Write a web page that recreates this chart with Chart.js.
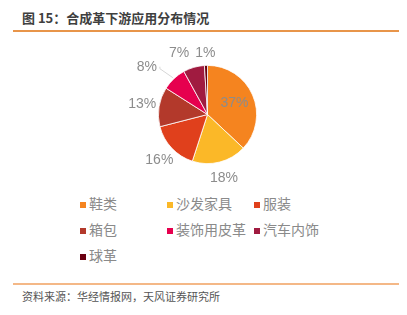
<!DOCTYPE html>
<html lang="zh">
<head>
<meta charset="UTF-8">
<title>合成革下游应用分布情况</title>
<style>
    body { margin: 0; background: #fff; font-family: "Noto Sans CJK SC", "Noto Sans", sans-serif; }
    #wrap { position: relative; width: 407px; height: 315px; overflow: hidden; }
    #title { position: absolute; left: 22px; top: 8px; font-size: 13px; font-weight: bold; color: #3f3f3f; }
    .rule { position: absolute; left: 13px; width: 386px; height: 2px; }
    #pie { position: absolute; left: 0; top: 40px; }
    #legend { position: absolute; left: 80px; top: 193px; width: 300px; }
    .item { position: absolute; font-size: 14px; color: #8a8a8a; white-space: nowrap; line-height: 20px; }
    .item i { display: inline-block; width: 6px; height: 6px; margin-right: 3px; vertical-align: 1px; }
    #source { position: absolute; left: 22px; top: 288px; font-size: 11px; color: #555; }
</style>
</head>
<body>
<div id="wrap">
    <div id="title">图 15：合成革下游应用分布情况</div>
    <div class="rule" style="top:30px;background:#e8954a;"></div>
    <canvas id="pie" width="407" height="150"></canvas>
    <div id="legend"></div>
    <div class="rule" style="top:283px;height:1.5px;background:#f4b887;"></div>
    <div id="source">资料来源：华经情报网，天风证券研究所</div>
</div>

<script src="https://cdn.jsdelivr.net/npm/chart.js"></script>
<script>
    const categories = ['鞋类', '沙发家具', '服装', '箱包', '装饰用皮革', '汽车内饰', '球革'];
    const shares = [37, 18, 16, 13, 8, 7, 1];
    const colors = ['#f5841f', '#fbb828', '#e0401c', '#b3392b', '#e6004e', '#a01b40', '#6a0010'];

    // legend as a 3 column grid, like the original
    const legend = document.getElementById('legend');
    categories.forEach((name, i) => {
        const el = document.createElement('div');
        el.className = 'item';
        el.style.left = (i % 3) * 87 + 'px';
        el.style.top = Math.floor(i / 3) * 26 + 'px';
        el.innerHTML = '<i style="background:' + colors[i] + '"></i>' + name;
        legend.appendChild(el);
    });

    // percent labels: the big slice inside, the rest outside
    const pctLabels = {
        id: 'pctLabels',
        afterDatasetsDraw(chart) {
            const ctx = chart.ctx;
            const arcs = chart.getDatasetMeta(0).data;
            ctx.save();
            ctx.font = '14px "Liberation Sans", "Noto Sans", sans-serif';
            ctx.fillStyle = '#8c8c8c';
            ctx.textAlign = 'center';
            ctx.textBaseline = 'middle';
            arcs.forEach((arc, i) => {
                const p = arc.getProps(['x', 'y', 'startAngle', 'endAngle', 'outerRadius']);
                const r = p.outerRadius;
                const mid = (p.startAngle + p.endAngle) / 2;
                const inside = shares[i] > 30;
                const dist = inside ? r * 0.6 : r + 17;
                let lx = p.x + Math.cos(mid) * dist;
                let ly = p.y + Math.sin(mid) * dist;
                // labels crowding the top are lined up above the pie
                if (!inside && ly < p.y - r) {
                    ly = p.y - r - 12;
                }
                if (shares[i] === 7) lx -= 10;
                if (shares[i] === 8) {
                    // pushed aside with a leader line
                    const ex = p.x + Math.cos(mid) * r;
                    const ey = p.y + Math.sin(mid) * r;
                    lx = ex - 27; ly = ey - 12;
                    ctx.strokeStyle = '#d6d6d6';
                    ctx.lineWidth = 1;
                    ctx.beginPath();
                    ctx.moveTo(ex - 1, ey - 1);
                    ctx.lineTo(ex - 14, ey - 10);
                    ctx.lineTo(lx + 13, ly);
                    ctx.stroke();
                }
                ctx.fillText(shares[i] + '%', lx, ly);
            });
            ctx.restore();
        }
    };

    new Chart(document.getElementById('pie'), {
        type: 'pie',
        data: {
            labels: categories,
            datasets: [{
                data: shares,
                backgroundColor: colors,
                borderColor: '#ffffff',
                borderWidth: 0.8,
                hoverOffset: 0
            }]
        },
        options: {
            responsive: false,
            animation: false,
            events: [],
            layout: { padding: { top: 25, bottom: 26, left: 8 } },
            plugins: {
                legend: { display: false },
                tooltip: { enabled: false }
            }
        },
        plugins: [pctLabels]
    });
</script>
</body>
</html>
